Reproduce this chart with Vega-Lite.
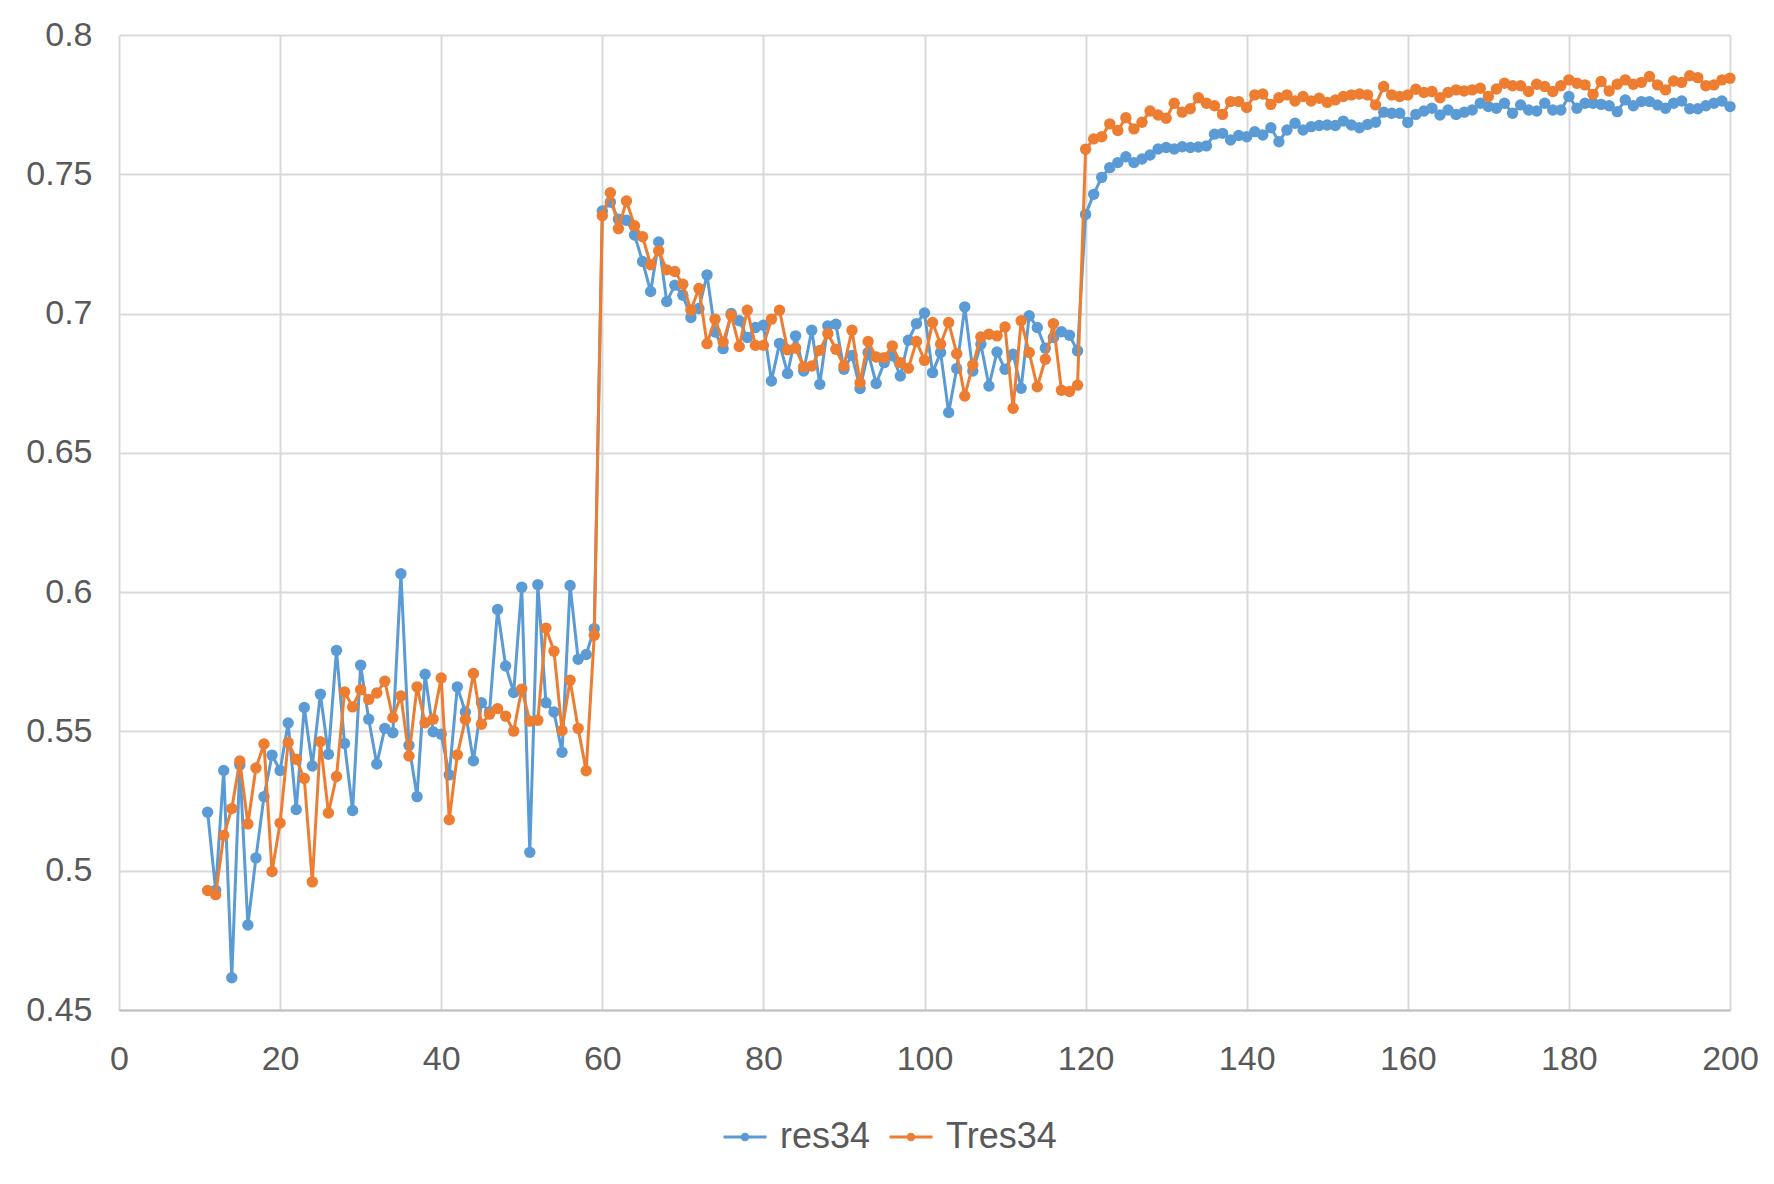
{
  "$schema": "https://vega.github.io/schema/vega-lite/v6.json",
  "width": 1611,
  "height": 975,
  "autosize": {"type": "none"},
  "padding": {"left": 119, "top": 35, "right": 44, "bottom": 174},
  "background": "#ffffff",
  "config": {
    "font": "Liberation Sans",
    "view": {"stroke": null},
    "axis": {
      "labelFont": "Liberation Sans",
      "labelFontSize": 34,
      "labelColor": "#595959",
      "gridColor": "#d9d9d9",
      "gridWidth": 2,
      "ticks": false,
      "tickSize": 0,
      "labelFlush": false,
      "labelOverlap": false,
      "title": null
    },
    "legend": {
      "labelFont": "Liberation Sans",
      "labelFontSize": 36,
      "labelColor": "#595959"
    }
  },
  "data": {
    "values": [
      {"e": 11, "res34": 0.521, "Tres34": 0.4929},
      {"e": 12, "res34": 0.493, "Tres34": 0.4914},
      {"e": 13, "res34": 0.536, "Tres34": 0.5127},
      {"e": 14, "res34": 0.4616, "Tres34": 0.5223},
      {"e": 15, "res34": 0.538, "Tres34": 0.5394},
      {"e": 16, "res34": 0.4805, "Tres34": 0.5168},
      {"e": 17, "res34": 0.5046, "Tres34": 0.5369},
      {"e": 18, "res34": 0.5266, "Tres34": 0.5455},
      {"e": 19, "res34": 0.5415, "Tres34": 0.4997},
      {"e": 20, "res34": 0.536, "Tres34": 0.5171},
      {"e": 21, "res34": 0.553, "Tres34": 0.546},
      {"e": 22, "res34": 0.522, "Tres34": 0.54},
      {"e": 23, "res34": 0.5586, "Tres34": 0.5331},
      {"e": 24, "res34": 0.5376, "Tres34": 0.496},
      {"e": 25, "res34": 0.5634, "Tres34": 0.5463},
      {"e": 26, "res34": 0.5418, "Tres34": 0.5207},
      {"e": 27, "res34": 0.5791, "Tres34": 0.5338},
      {"e": 28, "res34": 0.5457, "Tres34": 0.5642},
      {"e": 29, "res34": 0.5216, "Tres34": 0.5588},
      {"e": 30, "res34": 0.5738, "Tres34": 0.565},
      {"e": 31, "res34": 0.5544, "Tres34": 0.5615},
      {"e": 32, "res34": 0.5383, "Tres34": 0.5638},
      {"e": 33, "res34": 0.5511, "Tres34": 0.568},
      {"e": 34, "res34": 0.5495, "Tres34": 0.5549},
      {"e": 35, "res34": 0.6066, "Tres34": 0.5627},
      {"e": 36, "res34": 0.545, "Tres34": 0.5412},
      {"e": 37, "res34": 0.5266, "Tres34": 0.566},
      {"e": 38, "res34": 0.5705, "Tres34": 0.5531},
      {"e": 39, "res34": 0.5499, "Tres34": 0.5544},
      {"e": 40, "res34": 0.549, "Tres34": 0.5692},
      {"e": 41, "res34": 0.5344, "Tres34": 0.5183},
      {"e": 42, "res34": 0.566, "Tres34": 0.5416},
      {"e": 43, "res34": 0.557, "Tres34": 0.5543},
      {"e": 44, "res34": 0.5395, "Tres34": 0.5708},
      {"e": 45, "res34": 0.5603, "Tres34": 0.5526},
      {"e": 46, "res34": 0.557, "Tres34": 0.5562},
      {"e": 47, "res34": 0.5938, "Tres34": 0.5582},
      {"e": 48, "res34": 0.5735, "Tres34": 0.5555},
      {"e": 49, "res34": 0.564, "Tres34": 0.5501},
      {"e": 50, "res34": 0.6018, "Tres34": 0.5652},
      {"e": 51, "res34": 0.5066, "Tres34": 0.5537},
      {"e": 52, "res34": 0.6027, "Tres34": 0.554},
      {"e": 53, "res34": 0.5603, "Tres34": 0.5871},
      {"e": 54, "res34": 0.557, "Tres34": 0.5788},
      {"e": 55, "res34": 0.5425, "Tres34": 0.5503},
      {"e": 56, "res34": 0.6024, "Tres34": 0.5684},
      {"e": 57, "res34": 0.5759, "Tres34": 0.5511},
      {"e": 58, "res34": 0.5776, "Tres34": 0.5359},
      {"e": 59, "res34": 0.5869, "Tres34": 0.5845},
      {"e": 60, "res34": 0.7368, "Tres34": 0.7351},
      {"e": 61, "res34": 0.74, "Tres34": 0.7434},
      {"e": 62, "res34": 0.7339, "Tres34": 0.7305},
      {"e": 63, "res34": 0.7335, "Tres34": 0.7404},
      {"e": 64, "res34": 0.7282, "Tres34": 0.7315},
      {"e": 65, "res34": 0.7187, "Tres34": 0.7276},
      {"e": 66, "res34": 0.7079, "Tres34": 0.7175},
      {"e": 67, "res34": 0.7257, "Tres34": 0.7225},
      {"e": 68, "res34": 0.7043, "Tres34": 0.7157},
      {"e": 69, "res34": 0.7102, "Tres34": 0.7151},
      {"e": 70, "res34": 0.7066, "Tres34": 0.7105},
      {"e": 71, "res34": 0.6986, "Tres34": 0.7013},
      {"e": 72, "res34": 0.7018, "Tres34": 0.709},
      {"e": 73, "res34": 0.7139, "Tres34": 0.6892},
      {"e": 74, "res34": 0.6934, "Tres34": 0.698},
      {"e": 75, "res34": 0.6874, "Tres34": 0.6898},
      {"e": 76, "res34": 0.7, "Tres34": 0.6994},
      {"e": 77, "res34": 0.6974, "Tres34": 0.6882},
      {"e": 78, "res34": 0.6914, "Tres34": 0.7012},
      {"e": 79, "res34": 0.695, "Tres34": 0.6886},
      {"e": 80, "res34": 0.6958, "Tres34": 0.6886},
      {"e": 81, "res34": 0.6758, "Tres34": 0.698},
      {"e": 82, "res34": 0.6893, "Tres34": 0.7012},
      {"e": 83, "res34": 0.6785, "Tres34": 0.687},
      {"e": 84, "res34": 0.692, "Tres34": 0.6876},
      {"e": 85, "res34": 0.6794, "Tres34": 0.6809},
      {"e": 86, "res34": 0.694, "Tres34": 0.6812},
      {"e": 87, "res34": 0.6746, "Tres34": 0.6868},
      {"e": 88, "res34": 0.6956, "Tres34": 0.6928},
      {"e": 89, "res34": 0.6962, "Tres34": 0.6872},
      {"e": 90, "res34": 0.68, "Tres34": 0.6812},
      {"e": 91, "res34": 0.685, "Tres34": 0.694},
      {"e": 92, "res34": 0.6731, "Tres34": 0.6752},
      {"e": 93, "res34": 0.686, "Tres34": 0.69},
      {"e": 94, "res34": 0.6749, "Tres34": 0.6844},
      {"e": 95, "res34": 0.6824, "Tres34": 0.6842},
      {"e": 96, "res34": 0.6848, "Tres34": 0.6884},
      {"e": 97, "res34": 0.6776, "Tres34": 0.6824},
      {"e": 98, "res34": 0.6904, "Tres34": 0.6804},
      {"e": 99, "res34": 0.6964, "Tres34": 0.69},
      {"e": 100, "res34": 0.7002, "Tres34": 0.6832},
      {"e": 101, "res34": 0.6788, "Tres34": 0.6968},
      {"e": 102, "res34": 0.686, "Tres34": 0.689},
      {"e": 103, "res34": 0.6645, "Tres34": 0.6968},
      {"e": 104, "res34": 0.6803, "Tres34": 0.6856},
      {"e": 105, "res34": 0.7024, "Tres34": 0.6704},
      {"e": 106, "res34": 0.6794, "Tres34": 0.6816},
      {"e": 107, "res34": 0.689, "Tres34": 0.6916},
      {"e": 108, "res34": 0.674, "Tres34": 0.6926},
      {"e": 109, "res34": 0.6862, "Tres34": 0.692},
      {"e": 110, "res34": 0.68, "Tres34": 0.6952},
      {"e": 111, "res34": 0.6854, "Tres34": 0.666},
      {"e": 112, "res34": 0.6732, "Tres34": 0.6974},
      {"e": 113, "res34": 0.6992, "Tres34": 0.686},
      {"e": 114, "res34": 0.695, "Tres34": 0.6737},
      {"e": 115, "res34": 0.6876, "Tres34": 0.6836},
      {"e": 116, "res34": 0.6914, "Tres34": 0.6964},
      {"e": 117, "res34": 0.6935, "Tres34": 0.6725},
      {"e": 118, "res34": 0.6922, "Tres34": 0.672},
      {"e": 119, "res34": 0.6866, "Tres34": 0.6743},
      {"e": 120, "res34": 0.7356, "Tres34": 0.759},
      {"e": 121, "res34": 0.7428, "Tres34": 0.7627},
      {"e": 122, "res34": 0.7489, "Tres34": 0.7635},
      {"e": 123, "res34": 0.7524, "Tres34": 0.7681},
      {"e": 124, "res34": 0.7542, "Tres34": 0.7657},
      {"e": 125, "res34": 0.7563, "Tres34": 0.7703},
      {"e": 126, "res34": 0.7542, "Tres34": 0.7663},
      {"e": 127, "res34": 0.7555, "Tres34": 0.7687},
      {"e": 128, "res34": 0.7569, "Tres34": 0.7727},
      {"e": 129, "res34": 0.7591, "Tres34": 0.7713},
      {"e": 130, "res34": 0.7596, "Tres34": 0.7701},
      {"e": 131, "res34": 0.7591, "Tres34": 0.7755},
      {"e": 132, "res34": 0.7599, "Tres34": 0.7723},
      {"e": 133, "res34": 0.7596, "Tres34": 0.7735},
      {"e": 134, "res34": 0.7598, "Tres34": 0.7775},
      {"e": 135, "res34": 0.7602, "Tres34": 0.7755},
      {"e": 136, "res34": 0.7644, "Tres34": 0.7746},
      {"e": 137, "res34": 0.7647, "Tres34": 0.7715},
      {"e": 138, "res34": 0.7623, "Tres34": 0.7761},
      {"e": 139, "res34": 0.7639, "Tres34": 0.7761},
      {"e": 140, "res34": 0.7635, "Tres34": 0.774},
      {"e": 141, "res34": 0.7653, "Tres34": 0.7785},
      {"e": 142, "res34": 0.7641, "Tres34": 0.7788},
      {"e": 143, "res34": 0.7667, "Tres34": 0.7751},
      {"e": 144, "res34": 0.7617, "Tres34": 0.7775},
      {"e": 145, "res34": 0.7659, "Tres34": 0.7785},
      {"e": 146, "res34": 0.7683, "Tres34": 0.7763},
      {"e": 147, "res34": 0.7659, "Tres34": 0.7779},
      {"e": 148, "res34": 0.7671, "Tres34": 0.7763},
      {"e": 149, "res34": 0.7675, "Tres34": 0.7773},
      {"e": 150, "res34": 0.7677, "Tres34": 0.7758},
      {"e": 151, "res34": 0.7675, "Tres34": 0.7767},
      {"e": 152, "res34": 0.7691, "Tres34": 0.7779},
      {"e": 153, "res34": 0.7677, "Tres34": 0.7785},
      {"e": 154, "res34": 0.7667, "Tres34": 0.7788},
      {"e": 155, "res34": 0.7679, "Tres34": 0.7785},
      {"e": 156, "res34": 0.7687, "Tres34": 0.7749},
      {"e": 157, "res34": 0.7723, "Tres34": 0.7815},
      {"e": 158, "res34": 0.7719, "Tres34": 0.7785},
      {"e": 159, "res34": 0.7719, "Tres34": 0.7779},
      {"e": 160, "res34": 0.7686, "Tres34": 0.7785},
      {"e": 161, "res34": 0.7715, "Tres34": 0.7805},
      {"e": 162, "res34": 0.7727, "Tres34": 0.7794},
      {"e": 163, "res34": 0.7737, "Tres34": 0.7797},
      {"e": 164, "res34": 0.7713, "Tres34": 0.7775},
      {"e": 165, "res34": 0.7731, "Tres34": 0.7794},
      {"e": 166, "res34": 0.7715, "Tres34": 0.7803},
      {"e": 167, "res34": 0.7723, "Tres34": 0.7799},
      {"e": 168, "res34": 0.7731, "Tres34": 0.7803},
      {"e": 169, "res34": 0.7755, "Tres34": 0.7809},
      {"e": 170, "res34": 0.7743, "Tres34": 0.7779},
      {"e": 171, "res34": 0.7737, "Tres34": 0.7806},
      {"e": 172, "res34": 0.7755, "Tres34": 0.7827},
      {"e": 173, "res34": 0.7719, "Tres34": 0.7818},
      {"e": 174, "res34": 0.7749, "Tres34": 0.7818},
      {"e": 175, "res34": 0.7731, "Tres34": 0.7797},
      {"e": 176, "res34": 0.7727, "Tres34": 0.7823},
      {"e": 177, "res34": 0.7755, "Tres34": 0.7815},
      {"e": 178, "res34": 0.7731, "Tres34": 0.7797},
      {"e": 179, "res34": 0.7731, "Tres34": 0.7818},
      {"e": 180, "res34": 0.7779, "Tres34": 0.7839},
      {"e": 181, "res34": 0.7737, "Tres34": 0.7827},
      {"e": 182, "res34": 0.7755, "Tres34": 0.7821},
      {"e": 183, "res34": 0.7755, "Tres34": 0.7787},
      {"e": 184, "res34": 0.7751, "Tres34": 0.7833},
      {"e": 185, "res34": 0.7746, "Tres34": 0.7799},
      {"e": 186, "res34": 0.7725, "Tres34": 0.7823},
      {"e": 187, "res34": 0.7767, "Tres34": 0.7839},
      {"e": 188, "res34": 0.7746, "Tres34": 0.7823},
      {"e": 189, "res34": 0.7761, "Tres34": 0.783},
      {"e": 190, "res34": 0.7761, "Tres34": 0.7851},
      {"e": 191, "res34": 0.7749, "Tres34": 0.7821},
      {"e": 192, "res34": 0.7737, "Tres34": 0.7803},
      {"e": 193, "res34": 0.7755, "Tres34": 0.7835},
      {"e": 194, "res34": 0.7763, "Tres34": 0.783},
      {"e": 195, "res34": 0.7735, "Tres34": 0.7854},
      {"e": 196, "res34": 0.7735, "Tres34": 0.7847},
      {"e": 197, "res34": 0.7746, "Tres34": 0.7818},
      {"e": 198, "res34": 0.7755, "Tres34": 0.7821},
      {"e": 199, "res34": 0.7763, "Tres34": 0.7839},
      {"e": 200, "res34": 0.7743, "Tres34": 0.7845}
    ]
  },
  "transform": [
    {"fold": ["res34", "Tres34"], "as": ["series", "acc"]}
  ],
  "encoding": {
    "x": {
      "field": "e",
      "type": "quantitative",
      "scale": {"domain": [0, 200], "nice": false},
      "axis": {
        "values": [0, 20, 40, 60, 80, 100, 120, 140, 160, 180, 200],
        "labelPadding": 32,
        "domain": true,
        "domainColor": "#bfbfbf",
        "domainWidth": 2
      }
    },
    "y": {
      "field": "acc",
      "type": "quantitative",
      "scale": {"domain": [0.45, 0.8], "nice": false, "zero": false},
      "axis": {
        "values": [0.45, 0.5, 0.55, 0.6, 0.65, 0.7, 0.75, 0.8],
        "format": "~g",
        "labelPadding": 27,
        "domain": false
      }
    },
    "color": {
      "field": "series",
      "type": "nominal",
      "scale": {"domain": ["res34", "Tres34"], "range": ["#5b9bd5", "#ed7d31"]},
      "legend": {
        "title": null,
        "orient": "none",
        "direction": "horizontal",
        "legendX": 603,
        "legendY": 1079,
        "padding": 0,
        "symbolType": "M-1,0L1,0M-0.13,0A0.13,0.13 0 1,1 0.13,0A0.13,0.13 0 1,1 -0.13,0Z",
        "symbolSize": 1849,
        "symbolStrokeWidth": 3,
        "labelOffset": 12,
        "columnPadding": 12
      }
    }
  },
  "layer": [
    {
      "transform": [{"filter": "datum.series == 'res34'"}],
      "mark": {"type": "line", "strokeWidth": 3, "point": {"filled": true, "size": 130, "opacity": 1}}
    },
    {
      "transform": [{"filter": "datum.series == 'Tres34'"}],
      "mark": {"type": "line", "strokeWidth": 3, "point": {"filled": true, "size": 130, "opacity": 1}}
    }
  ]
}
